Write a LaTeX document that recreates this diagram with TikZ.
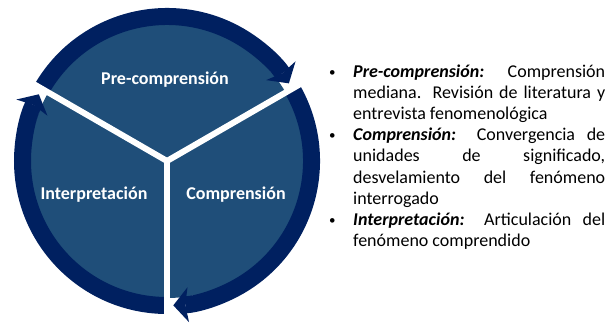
\documentclass[tikz,border=0pt]{standalone}
\usepackage{fontspec}
\setmainfont{Carlito}
\usetikzlibrary{positioning,arrows.meta}

\definecolor{diskblue}{HTML}{1F4E79}
\definecolor{ringnavy}{HTML}{002060}

\newcommand{\notebullet}{\hangindent=23pt\hangafter=1\noindent
  \makebox[23pt][l]{\hspace{-1pt}\raisebox{1pt}{\fontsize{13}{13}\selectfont•}}}

\begin{document}
\begin{tikzpicture}[
    x=1pt, y=1pt,
    ring/.style={
        draw=ringnavy,
        line width=17pt,
        -{Stealth[length=15pt,width=35pt,inset=3pt,line width=0pt]},
        },
    spoke/.style={
        draw=white,
        line width=6pt,
        },
    phase/.style={
        text=white,
        inner sep=0pt,
        font=\fontsize{18}{21.6}\selectfont\bfseries,
        },
    notes/.style={
        text width=275pt,
        align=justify,
        inner sep=0pt,
        font=\fontsize{18}{21.2}\selectfont,
        },
]
\useasboundingbox (0,0) rectangle (609,322);

\coordinate (c) at (167,161);
\fill[diskblue] (c) circle[radius=137pt];

\draw[ring] ([shift={(150:144.5pt)}]c) arc[start angle=150,end angle=32.5,radius=144.5pt];
\draw[ring] ([shift={(30:144.5pt)}]c) arc[start angle=30,end angle=-87.5,radius=144.5pt];
\draw[ring] ([shift={(270:144.5pt)}]c) arc[start angle=270,end angle=152.5,radius=144.5pt];

\coordinate (s1) at ([shift={(150:154pt)}]c);
\coordinate (s2) at ([shift={(30:154pt)}]c);
\coordinate (s3) at ([shift={(270:154pt)}]c);
\draw[spoke] (c) -- (s1);
\draw[spoke] (c) -- (s2);
\draw[spoke] (c) -- (s3);

\node[phase] (pre) at (165,242) {Pre-comprensión};
\node[phase] (inter) at (94,127) {Interpretación};
\node[phase] (comp) at (236,127) {Comprensión};

\node[notes, anchor=north west] (list) at (330,260) {%
\notebullet\strut\textbf{\textit{Pre-comprensión:}} Comprensión\linebreak
mediana. Revisión de literatura y\linebreak
entrevista fenomenológica\par
\notebullet\textbf{\textit{Comprensión:}} Convergencia de\linebreak
unidades de significado,\linebreak
desvelamiento del fenómeno\linebreak
interrogado\par
\notebullet\textbf{\textit{Interpretación:}} Articulación del\linebreak
fenómeno comprendido\strut\par};

\end{tikzpicture}
\end{document}
